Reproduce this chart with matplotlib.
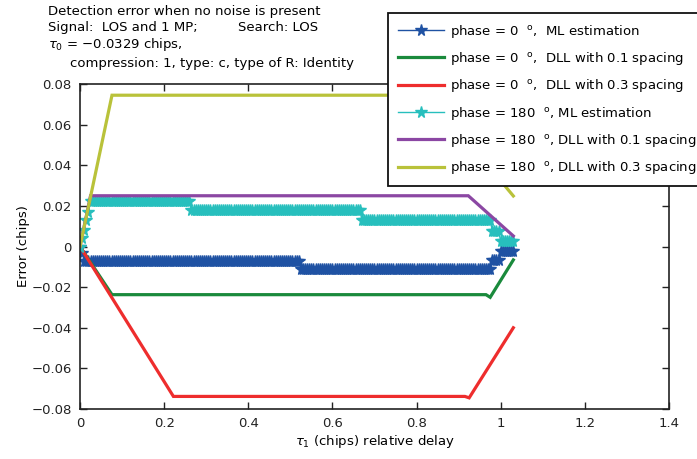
import matplotlib

matplotlib.use("Agg")
import matplotlib.pyplot as plt
import numpy as np


# tau1 sweep used for the ML estimator curves (chips)
TAU_STEP = 0.005
TAU_END = 1.03

# ML estimation errors are piecewise constant: level i holds from edge i on
ML0_EDGES = [0.0, 0.005, 0.01, 0.525, 0.98, 1.0]
ML0_LEVELS = [0.0, -0.003, -0.007, -0.0113, -0.0066, -0.002]
ML180_EDGES = [0.0, 0.005, 0.01, 0.015, 0.02, 0.025, 0.265, 0.67, 0.98, 1.0]
ML180_LEVELS = [0.0, 0.004, 0.008, 0.013, 0.017, 0.0222, 0.018, 0.0133, 0.0076, 0.0027]

# DLL errors (corner points of the curves)
DLL01_0_TAU = [0.0, 0.076, 0.965, 0.975, 1.03]
DLL01_0_ERR = [0.0, -0.0237, -0.0237, -0.0250, -0.0066]
DLL03_0_TAU = [0.0, 0.222, 0.915, 0.925, 1.03]
DLL03_0_ERR = [0.0, -0.0738, -0.0738, -0.0745, -0.0400]
DLL01_180_TAU = [0.0, 0.025, 0.923, 1.03]
DLL01_180_ERR = [0.0, 0.0250, 0.0250, 0.0052]
DLL03_180_TAU = [0.0, 0.076, 0.83, 1.03]
DLL03_180_ERR = [0.0, 0.0745, 0.0745, 0.0249]

LABELS = [
    r"phase = 0  $^{\mathrm{o}}$,  ML estimation",
    r"phase = 0  $^{\mathrm{o}}$,  DLL with 0.1 spacing",
    r"phase = 0  $^{\mathrm{o}}$,  DLL with 0.3 spacing",
    r"phase = 180  $^{\mathrm{o}}$, ML estimation",
    r"phase = 180  $^{\mathrm{o}}$, DLL with 0.1 spacing",
    r"phase = 180  $^{\mathrm{o}}$, DLL with 0.3 spacing",
]
COLORS = ["#1f52a3", "#1a8a3c", "#ee2d2d", "#27bfbd", "#8b47a3", "#b9c23a"]

XTICKS = [0, 0.2, 0.4, 0.6, 0.8, 1, 1.2, 1.4]
YTICKS = [-0.08, -0.06, -0.04, -0.02, 0, 0.02, 0.04, 0.06, 0.08]


def step_curve(tau, edges, levels):
    idx = np.searchsorted(edges, tau + 1e-9, side="right") - 1
    return np.asarray(levels)[idx]


plt.rcParams["font.family"] = "DejaVu Sans"
plt.rcParams["mathtext.fontset"] = "dejavusans"

fig = plt.figure(figsize=(6.97, 4.59), dpi=100)
ax = fig.add_axes([0.1148, 0.1089, 0.845, 0.708])

tau = np.arange(0.0, TAU_END + 1e-9, TAU_STEP)
star = dict(marker="*", markersize=8.5, linewidth=1.0)
dll = dict(linewidth=2.3, solid_joinstyle="miter")

ax.plot(tau, step_curve(tau, ML0_EDGES, ML0_LEVELS), color=COLORS[0], label=LABELS[0], **star)
ax.plot(DLL01_0_TAU, DLL01_0_ERR, color=COLORS[1], label=LABELS[1], **dll)
ax.plot(DLL03_0_TAU, DLL03_0_ERR, color=COLORS[2], label=LABELS[2], **dll)
ax.plot(tau, step_curve(tau, ML180_EDGES, ML180_LEVELS), color=COLORS[3], label=LABELS[3], **star)
ax.plot(DLL01_180_TAU, DLL01_180_ERR, color=COLORS[4], label=LABELS[4], **dll)
ax.plot(DLL03_180_TAU, DLL03_180_ERR, color=COLORS[5], label=LABELS[5], **dll)

ax.set_xlim(0, 1.4)
ax.set_ylim(-0.08, 0.08)
ax.set_xticks(XTICKS)
ax.set_xticklabels([f"{v:g}" for v in XTICKS])
ax.set_yticks(YTICKS)
ax.set_yticklabels([f"{v:g}".replace("-", "\u2212") for v in YTICKS])
ax.tick_params(direction="in", top=True, right=True, length=5, width=1.0,
               labelsize=9.5, colors="#222222", pad=6)
for side in ax.spines.values():
    side.set_linewidth(1.2)
    side.set_color("#222222")

ax.set_xlabel(r"$\tau_1$ (chips) relative delay", fontsize=9.5, labelpad=2)
ax.set_ylabel("Error (chips)", fontsize=9.5, labelpad=1)

# multi-line heading above the axes
fig.text(0.069, 0.974, "Detection error when no noise is present", fontsize=9.5, va="center")
fig.text(0.069, 0.941, "Signal:  LOS and 1 MP;", fontsize=9.5, va="center")
fig.text(0.341, 0.941, "Search: LOS", fontsize=9.5, va="center")
fig.text(0.069, 0.904, "$\\tau_0$ = \u22120.0329 chips,", fontsize=9.5, va="center")
fig.text(0.100, 0.862, "compression: 1, type: c, type of R: Identity", fontsize=9.5, va="center")

leg = fig.legend(loc="upper left", bbox_to_anchor=(0.557, 0.972), fontsize=9.5,
                 frameon=True, fancybox=False, framealpha=1, edgecolor="#111111",
                 handlelength=3.5, handletextpad=0.45, labelspacing=0.78,
                 borderpad=0.75, borderaxespad=0)
leg.get_frame().set_linewidth(1.3)

fig.savefig("out.png", dpi=100)
